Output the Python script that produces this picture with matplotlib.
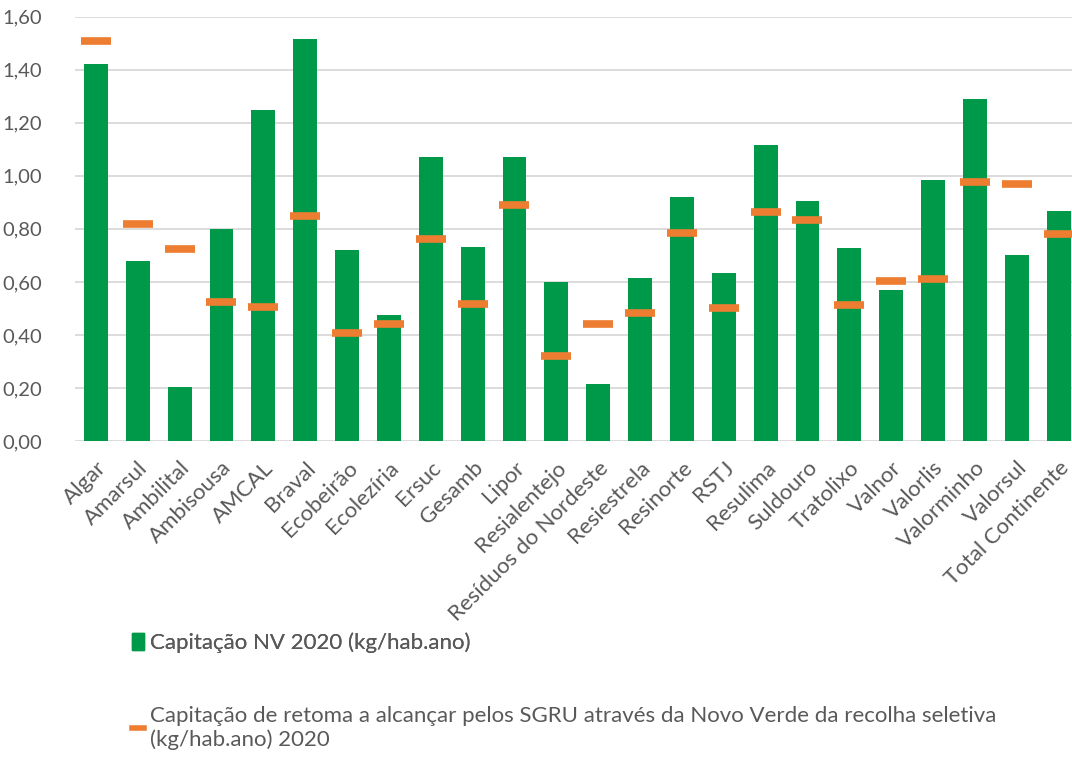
import numpy as np
import matplotlib.pyplot as plt
from matplotlib.patches import Patch
from matplotlib.lines import Line2D

plt.rcParams['font.family'] = ['Lato', 'DejaVu Sans']

categorias = ['Algar', 'Amarsul', 'Ambilital', 'Ambisousa', 'AMCAL', 'Braval',
              'Ecobeirão', 'Ecolezíria', 'Ersuc', 'Gesamb', 'Lipor', 'Resialentejo',
              'Resíduos do Nordeste', 'Resiestrela', 'Resinorte', 'RSTJ', 'Resulima',
              'Suldouro', 'Tratolixo', 'Valnor', 'Valorlis', 'Valorminho', 'Valorsul',
              'Total Continente']
capitacao_nv = [1.42, 0.68, 0.205, 0.80, 1.25, 1.515, 0.72, 0.475, 1.07, 0.73, 1.07, 0.60,
                0.215, 0.615, 0.92, 0.632, 1.115, 0.906, 0.728, 0.57, 0.985, 1.29, 0.70, 0.867]
retoma = [1.508, 0.82, 0.724, 0.525, 0.506, 0.847, 0.408, 0.44, 0.76, 0.517, 0.89, 0.319,
          0.442, 0.481, 0.783, 0.502, 0.865, 0.833, 0.512, 0.605, 0.611, 0.977, 0.968, 0.779]
yticks = [0.0, 0.2, 0.4, 0.6, 0.8, 1.0, 1.2, 1.4, 1.6]

verde = '#00994A'
laranja = '#ED7D31'
cinza = '#595959'

fig = plt.figure(figsize=(10.72, 7.57), dpi=100)
ax = fig.add_axes([75 / 1072, 316 / 757, 997 / 1072, 424.3 / 757])

x = np.arange(len(categorias))
ax.bar(x, capitacao_nv, width=0.57, color=verde, zorder=2)
ax.plot(x, retoma, linestyle='none', marker='_', markersize=21, mew=5.5,
        color=laranja, zorder=3)

ax.set_ylim(0, 1.6)
ax.set_xlim(-0.5, 23.32)
ax.set_yticks(yticks)
ax.set_yticklabels([f'{v:.2f}'.replace('.', ',') for v in yticks], fontsize=14.5, color=cinza)
ax.set_xticks(x)
ax.set_xticklabels(categorias, rotation=45, ha='right', va='top', rotation_mode='anchor',
                   fontsize=16, color=cinza)
ax.tick_params(axis='both', length=0)
ax.tick_params(axis='y', pad=24)
ax.tick_params(axis='x', pad=12)
ax.grid(axis='y', color='#D9D9D9', linewidth=1.3, zorder=0)
ax.set_axisbelow(True)
for s in ax.spines.values():
    s.set_visible(False)

leg1 = fig.legend(handles=[Patch(color=verde)], labels=['Capitação NV 2020 (kg/hab.ano)'],
                  loc='center left', bbox_to_anchor=(112 / 1072, 1 - 643 / 757), frameon=False,
                  fontsize=16, labelcolor=cinza, handlelength=0.55, handleheight=0.85,
                  handletextpad=0.25)
fig.add_artist(leg1)
fig.legend(handles=[Line2D([], [], color=laranja, lw=4)],
           labels=['Capitação de retoma a alcançar pelos SGRU através da Novo Verde da recolha seletiva\n(kg/hab.ano) 2020'],
           loc='center left', bbox_to_anchor=(112 / 1072, 1 - 728 / 757), frameon=False,
           fontsize=16, labelcolor=cinza, handlelength=0.55, handletextpad=0.25)

fig.savefig('out.png', dpi=100)
